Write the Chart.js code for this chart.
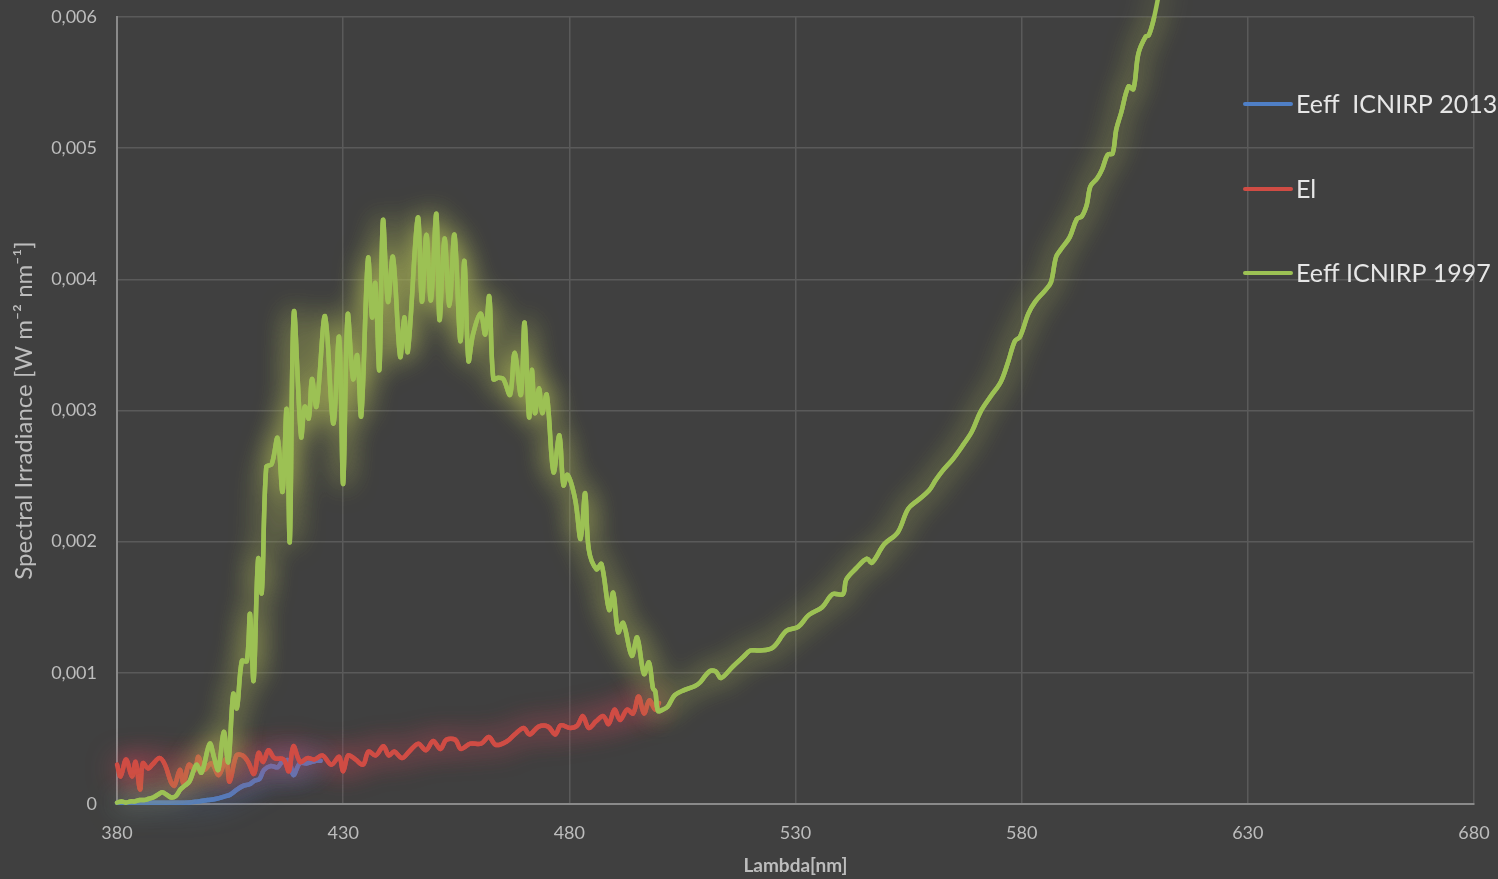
<!DOCTYPE html>
<html lang="en">
<head>
  <meta charset="UTF-8">
  <title>Spectral Irradiance</title>
  <script src="https://cdn.jsdelivr.net/npm/chart.js"></script>
  <style>
    * { margin: 0; padding: 0; box-sizing: border-box; }
    body { background: #404040; }
    .wrap { width: 1498px; height: 879px; position: relative; }
  </style>
</head>
<body>
  <div class="wrap"><canvas id="chart"></canvas></div>

  <script>
    // Eeff ICNIRP 1997 (green)
    const greenNm = [380, 381, 382, 383, 384, 385, 386, 387, 388, 389, 390, 391, 392, 393, 394, 395, 396, 397, 397.6, 398.7,
      400.5, 401.5, 402.4, 403.6, 404.6, 405.7, 406.5, 407.6, 408.7, 409.4, 410.2, 411.2, 412, 413, 414.2, 415.5, 416.6, 417.5, 418.2, 419.1,
      420.7, 421.5, 422.4, 423.1, 424.1, 426, 427.8, 429.1, 430, 431, 432.2, 433.1, 434, 435.5, 436.4, 437.1, 438, 438.8, 439.9, 441,
      442.6, 443.5, 444.3, 446.5, 447.4, 448.4, 449.4, 450.6, 451.3, 452.4, 453.5, 454.6, 455.9, 456.8, 457.7, 458.7, 460.4, 461.4, 462.3, 463.2,
      464.3, 465.4, 466.9, 467.9, 469.3, 470.1, 471.1, 471.7, 472.4, 473.3, 474, 475, 476.5, 477.8, 478.7, 479.6, 481.3, 482.5, 483.5, 484.3,
      486, 487.1, 488.8, 489.7, 490.8, 491.9, 493.8, 495, 496.5, 497.6, 498.5, 499, 499.6, 500.7, 501.7, 503.3, 505.5, 507.8, 509, 510.9,
      512.4, 513.5, 516.2, 518.4, 520, 521.9, 524.9, 528, 530.6, 532.9, 535.9, 538.2, 540.5, 541.2, 543.5, 545.8, 546.9, 549.6, 552.6, 554.9,
      557.2, 559.5, 561, 562.5, 564.8, 567.1, 569, 570.9, 573.2, 575.4, 577, 578.5, 579.6, 581.5, 583, 585.3, 586.5, 587.6, 588.7, 590.6,
      592.2, 593.3, 594.4, 595.2, 596.7, 597.8, 599, 600.1, 600.9, 602, 603.6, 604.7, 605.8, 607.4, 608.1, 609.3, 611];
    const greenVal = [0.00001, 0.00002, 0.00001, 0.00002, 0.00002, 0.00003, 0.00003, 0.00004, 0.00005, 0.00007, 0.00009, 0.00007, 0.00005, 0.00006, 0.00011, 0.00014, 0.00017, 0.00026, 0.00030, 0.00024,
      0.00046, 0.00035, 0.00026, 0.00055, 0.00032, 0.00084, 0.00073, 0.00109, 0.00109, 0.00145, 0.00094, 0.00187, 0.00161, 0.00257, 0.00259, 0.00279, 0.00238, 0.00301, 0.00200, 0.00375,
      0.00280, 0.00303, 0.00294, 0.00324, 0.00303, 0.00372, 0.00290, 0.00356, 0.00244, 0.00373, 0.00324, 0.00342, 0.00296, 0.00416, 0.00371, 0.00397, 0.00331, 0.00445, 0.00383, 0.00417,
      0.00341, 0.00371, 0.00345, 0.00447, 0.00383, 0.00434, 0.00384, 0.00450, 0.00369, 0.00431, 0.00380, 0.00434, 0.00353, 0.00414, 0.00338, 0.00358, 0.00374, 0.00358, 0.00387, 0.00324,
      0.00325, 0.00324, 0.00312, 0.00344, 0.00312, 0.00367, 0.00295, 0.00331, 0.00298, 0.00317, 0.00298, 0.00312, 0.00253, 0.00281, 0.00243, 0.00251, 0.00232, 0.00202, 0.00237, 0.00194,
      0.00179, 0.00183, 0.00148, 0.00161, 0.00131, 0.00138, 0.00113, 0.00127, 0.00099, 0.00108, 0.00088, 0.00086, 0.00071, 0.00072, 0.00074, 0.00083, 0.00087, 0.00090, 0.00093, 0.00101,
      0.00101, 0.00096, 0.00105, 0.00112, 0.00117, 0.00117, 0.00119, 0.00132, 0.00135, 0.00144, 0.00150, 0.00160, 0.00160, 0.00171, 0.00180, 0.00187, 0.00184, 0.00198, 0.00207, 0.00225,
      0.00232, 0.00239, 0.00247, 0.00254, 0.00263, 0.00274, 0.00284, 0.00299, 0.00311, 0.00322, 0.00337, 0.00353, 0.00356, 0.00374, 0.00383, 0.00392, 0.00398, 0.00417, 0.00423, 0.00432,
      0.00446, 0.00448, 0.00457, 0.00471, 0.00477, 0.00484, 0.00495, 0.00496, 0.00514, 0.00527, 0.00547, 0.00545, 0.00572, 0.00585, 0.00586, 0.00600, 0.00630];

    // El (red)
    const redNm = [380, 380.8, 382, 383.3, 384.1, 385.1, 385.7, 386.9, 387.8, 389.4, 390.6, 391.9, 392.7, 393.9, 394.7, 395.9, 397.2, 398, 399.2, 400.9,
      402.5, 404.1, 404.9, 406.4, 407.8, 409, 410.3, 411.3, 412.3, 413.5, 414.8, 416.8, 418, 419, 420.5, 422.1, 423.7, 425.4, 427.4, 429.1,
      430, 431.1, 432.7, 434.4, 435.6, 437.2, 438.9, 440.1, 441.3, 443, 444.6, 446.6, 448.3, 449.9, 451.5, 452.8, 454.8, 456, 458.1, 460.5,
      462.2, 463.8, 466.3, 467.9, 469.9, 471.2, 473.2, 475.3, 476.9, 478.1, 480.2, 481.8, 483, 484.3, 485.9, 487.5, 488.7, 490, 491.2, 492.8,
      494.1, 495.3, 496.5, 497.7, 499, 499.8];
    const redVal = [0.00030, 0.00021, 0.00034, 0.00021, 0.00032, 0.00011, 0.00031, 0.00027, 0.00030, 0.00035, 0.00030, 0.00017, 0.00014, 0.00026, 0.00016, 0.00030, 0.00026, 0.00036, 0.00026, 0.00031,
      0.00022, 0.00034, 0.00017, 0.00037, 0.00037, 0.00032, 0.00023, 0.00039, 0.00032, 0.00041, 0.00035, 0.00034, 0.00025, 0.00044, 0.00032, 0.00035, 0.00034, 0.00037, 0.00030, 0.00036,
      0.00025, 0.00037, 0.00034, 0.00030, 0.00040, 0.00037, 0.00044, 0.00037, 0.00040, 0.00035, 0.00040, 0.00046, 0.00041, 0.00048, 0.00042, 0.00049, 0.00049, 0.00042, 0.00046, 0.00046,
      0.00051, 0.00045, 0.00048, 0.00053, 0.00058, 0.00053, 0.00059, 0.00059, 0.00053, 0.00060, 0.00058, 0.00060, 0.00067, 0.00058, 0.00063, 0.00067, 0.00061, 0.00072, 0.00064, 0.00072,
      0.00069, 0.00082, 0.00069, 0.00079, 0.00072, 0.00077];

    // Eeff ICNIRP 2013 (blue)
    const blueNm = [380, 385, 390, 395, 398, 400, 402, 404, 405, 406.5, 408, 409.3, 410.5, 411.5, 412.5, 414, 415.5, 416.5, 418, 419, 420.4, 422, 424, 425];
    const blueVal = [0.00001, 0.00001, 0.00001, 0.00001, 0.00002, 0.00003, 0.00004, 0.00006, 0.00007, 0.00011, 0.00014, 0.00015, 0.00018, 0.00019, 0.00026, 0.00029, 0.00028, 0.00032, 0.00033, 0.00022, 0.00031, 0.00031, 0.00033, 0.00033];

    const xTicks = [380, 430, 480, 530, 580, 630, 680];
    const seriesNames = ['Eeff  ICNIRP 2013', 'El', 'Eeff ICNIRP 1997'];

    const pts = (xs, ys) => xs.map((x, i) => ({ x, y: ys[i] }));
    const tickFont = { family: 'Lato', size: 18 };

    // soft outer glow like the original: the line is stroked twice with a blurred shadow
    const glowPlugin = {
      id: 'glow',
      beforeDatasetDraw(chart, args) {
        const ds = chart.data.datasets[args.index];
        chart.ctx.save();
        chart.ctx.shadowColor = ds.glow;
        chart.ctx.shadowBlur = 28;
      },
      afterDatasetDraw(chart, args) {
        args.meta.controller.draw();
        chart.ctx.restore();
      }
    };

    // legend sits inside the plot on the right
    const legendPlugin = {
      id: 'sideLegend',
      afterDraw(chart) {
        const ctx = chart.ctx;
        const rows = [104, 189, 273];
        ctx.save();
        chart.data.datasets.forEach((ds, i) => {
          ctx.strokeStyle = ds.borderColor;
          ctx.lineWidth = 4;
          ctx.lineCap = 'round';
          ctx.beginPath();
          ctx.moveTo(1245, rows[i]);
          ctx.lineTo(1291, rows[i]);
          ctx.stroke();
          ctx.fillStyle = '#e6e6e6';
          ctx.font = '25px Lato';
          ctx.textBaseline = 'middle';
          ctx.fillText(ds.label, 1296, rows[i] + 1);
        });
        ctx.restore();
      }
    };

    new Chart(document.getElementById('chart'), {
      type: 'line',
      data: {
        datasets: [
          { label: seriesNames[0], data: pts(blueNm, blueVal), borderColor: '#4f7fc6', glow: 'rgba(80,130,210,0.8)', order: 2 },
          { label: seriesNames[1], data: pts(redNm, redVal), borderColor: '#d04c44', glow: 'rgba(200,70,90,0.75)', order: 1 },
          { label: seriesNames[2], data: pts(greenNm, greenVal), borderColor: '#9cc154', glow: 'rgba(170,180,85,0.8)', order: 0 }
        ]
      },
      options: {
        responsive: true,
        maintainAspectRatio: false,
        animation: false,
        layout: { padding: { top: 17, right: 24, left: 0, bottom: 0 } },
        elements: {
          point: { radius: 0 },
          line: { borderWidth: 4.5, tension: 0.35, borderCapStyle: 'round', borderJoinStyle: 'round' }
        },
        plugins: {
          legend: { display: false },
          tooltip: { enabled: false }
        },
        scales: {
          x: {
            type: 'linear',
            min: 380,
            max: 680,
            afterFit: s => { s.height = 75; },
            afterBuildTicks: s => { s.ticks = xTicks.map(v => ({ value: v })); },
            // tick marks are invisible, their length only pushes the labels away
            grid: { color: '#5a5a5a', lineWidth: 1.5, drawTicks: true, tickLength: 18, tickColor: 'rgba(0,0,0,0)' },
            border: { color: '#8a8a8a', width: 2 },
            ticks: { color: '#bdbdbd', font: tickFont, padding: 0 },
            title: {
              display: true,
              text: 'Lambda[nm]',
              color: '#bdbdbd',
              font: { family: 'Lato', size: 19, weight: 'bold' },
              padding: { top: 0, bottom: 2 }
            }
          },
          y: {
            min: 0,
            max: 0.006,
            afterFit: s => { s.width = 117; },
            grid: { color: '#5a5a5a', lineWidth: 1.5, drawTicks: true, tickLength: 20, tickColor: 'rgba(0,0,0,0)' },
            border: { color: '#8a8a8a', width: 2 },
            ticks: {
              stepSize: 0.001,
              color: '#bdbdbd',
              font: tickFont,
              padding: 0,
              callback: v => v === 0 ? '0' : v.toFixed(3).replace('.', ',')
            },
            title: {
              display: true,
              text: 'Spectral Irradiance [W m⁻² nm⁻¹]',
              color: '#bdbdbd',
              font: { family: 'Lato', size: 24 },
              padding: { top: 10, bottom: 0 }
            }
          }
        }
      },
      plugins: [glowPlugin, legendPlugin]
    });
  </script>
</body>
</html>
